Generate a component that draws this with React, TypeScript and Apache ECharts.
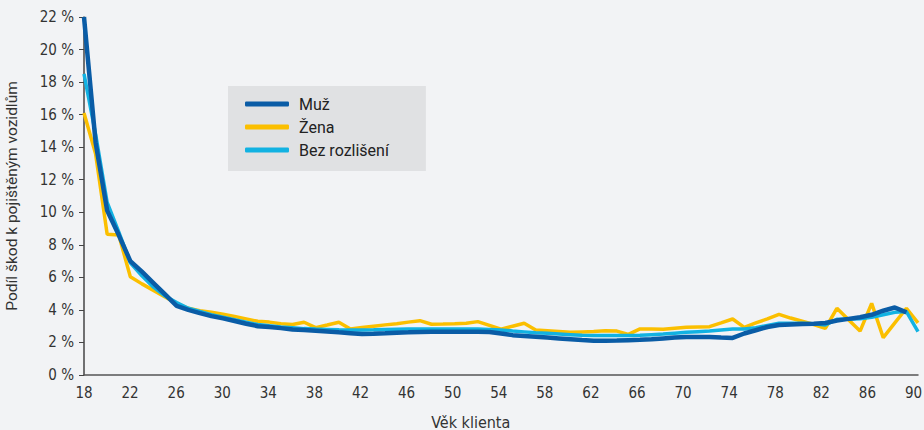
import React, { useEffect, useRef } from "react";
import * as echarts from "echarts";

const ages: number[] = Array.from({ length: 73 }, (_, i) => 18 + i);

const muz: (number | null)[] = [
  22.0, 14.3, 10.1, 8.6, 7.0, 6.35, 5.65, 4.95, 4.25, 4.0,
  3.8, 3.62, 3.48, 3.32, 3.15, 3.0, 2.95, 2.88, 2.8, 2.76,
  2.72, 2.68, 2.62, 2.57, 2.52, 2.53, 2.56, 2.6, 2.62, 2.65,
  2.66, 2.66, 2.66, 2.66, 2.66, 2.64, 2.55, 2.45, 2.4, 2.35,
  2.3, 2.25, 2.2, 2.15, 2.11, 2.11, 2.12, 2.14, 2.16, 2.2,
  2.25, 2.3, 2.33, 2.33, 2.33, 2.3, 2.28, 2.55, 2.75, 2.95,
  3.07, 3.1, 3.13, 3.15, 3.2, 3.35, 3.45, 3.55, 3.7, 3.95,
  4.15, 3.85, null,
];

const zena: number[] = [
  16.1, 13.6, 8.65, 8.6, 6.04, 5.6, 5.2, 4.8, 4.4, 4.1,
  3.95, 3.85, 3.73, 3.6, 3.45, 3.3, 3.25, 3.15, 3.1, 3.24,
  2.91, 3.07, 3.24, 2.83, 2.92, 3.0, 3.08, 3.15, 3.25, 3.34,
  3.12, 3.13, 3.15, 3.18, 3.28, 3.05, 2.81, 3.0, 3.18, 2.77,
  2.72, 2.67, 2.62, 2.65, 2.68, 2.72, 2.7, 2.5, 2.83, 2.82,
  2.81, 2.87, 2.93, 2.95, 2.97, 3.2, 3.44, 2.93, 3.2, 3.45,
  3.73, 3.5, 3.3, 3.1, 2.87, 4.1, 3.4, 2.7, 4.4, 2.3,
  3.2, 4.1, 3.2,
];

const bez: number[] = [
  18.5, 14.8, 10.6, 8.8, 6.9, 6.1, 5.4, 4.85, 4.45, 4.1,
  3.9, 3.7, 3.55, 3.4, 3.25, 3.1, 3.02, 2.95, 2.9, 2.85,
  2.82, 2.8, 2.78, 2.77, 2.77, 2.78, 2.8, 2.81, 2.82, 2.83,
  2.83, 2.83, 2.83, 2.83, 2.83, 2.8, 2.77, 2.7, 2.65, 2.6,
  2.56, 2.52, 2.48, 2.44, 2.42, 2.42, 2.42, 2.42, 2.44, 2.48,
  2.52, 2.57, 2.62, 2.66, 2.7, 2.77, 2.83, 2.82, 2.9, 3.05,
  3.18, 3.18, 3.18, 3.15, 3.07, 3.42, 3.42, 3.45, 3.55, 3.7,
  3.85, 3.9, 2.66,
];

const seriesNames = ["Muž", "Žena", "Bez rozlišení"];
const xTicks = { min: 18, max: 90, interval: 4 };
const yTicks = { min: 0, max: 22, interval: 2 };

const axisFont = "'Liberation Sans Narrow', 'DejaVu Sans Condensed', 'Roboto', sans-serif";

export default function App() {
  const ref = useRef<HTMLDivElement>(null);

  useEffect(() => {
    document.body.style.margin = "0";
    document.body.style.background = "#f2f3f5";
    if (!ref.current) return;
    const chart = echarts.init(ref.current, null, { renderer: "svg" });
    const pairs = (vals: (number | null)[]) =>
      ages.map((a, i) => [a, vals[i] == null ? null : vals[i]]);

    chart.setOption({
      animation: false,
      backgroundColor: "#f2f3f5",
      grid: [
        { left: 84, right: 6, top: 17, bottom: 55, outerBoundsMode: "none", containLabel: false },
        { left: 84, right: 10.5, top: 17, bottom: 55, outerBoundsMode: "none", containLabel: false },
      ],
      legend: {
        show: true,
        orient: "vertical",
        left: 228,
        top: 86,
        backgroundColor: "#e0e1e3",
        padding: [10, 37, 13, 17],
        itemGap: 7,
        itemWidth: 44,
        itemHeight: 5,
        icon: "roundRect",
        textStyle: {
          fontFamily: "Roboto, sans-serif",
          fontSize: 16,
          lineHeight: 16,
          color: "#222",
          padding: [0, 0, 0, 5],
        },
        data: seriesNames,
      },
      xAxis: [
        {
          type: "value",
          gridIndex: 0,
          min: xTicks.min,
          max: xTicks.max,
          interval: xTicks.interval,
          axisLine: { show: true, lineStyle: { color: "#555", width: 1.5 } },
          axisTick: { show: false },
          splitLine: { show: false },
          axisLabel: { show: false },
        },
        {
          type: "value",
          gridIndex: 1,
          min: xTicks.min,
          max: xTicks.max,
          interval: xTicks.interval,
          name: "Věk klienta",
          nameLocation: "middle",
          nameGap: 39,
          nameTextStyle: { fontFamily: axisFont, fontSize: 16, color: "#333", padding: [0, 56, 0, 0] },
          axisLine: { show: false },
          axisTick: { show: false },
          splitLine: { show: false },
          axisLabel: { fontFamily: axisFont, fontSize: 15, color: "#333", margin: 10 },
        },
      ],
      yAxis: [
        {
          type: "value",
          gridIndex: 0,
          min: yTicks.min,
          max: yTicks.max,
          interval: yTicks.interval,
          name: "Podíl škod k pojištěným vozidlům",
          nameLocation: "middle",
          nameGap: 64,
          nameTextStyle: { fontFamily: "Roboto, sans-serif", fontSize: 15.5, color: "#333" },
          axisLine: { show: true, lineStyle: { color: "#444", width: 1.5 } },
          axisTick: { show: true, inside: false, length: 5, lineStyle: { color: "#444" } },
          splitLine: { show: false },
          axisLabel: {
            fontFamily: axisFont,
            fontSize: 15,
            color: "#333",
            margin: 10,
            formatter: (v: number) => `${v} %`,
          },
        },
        {
          type: "value",
          gridIndex: 1,
          min: yTicks.min,
          max: yTicks.max,
          interval: yTicks.interval,
          show: false,
        },
      ],
      series: [
        {
          name: seriesNames[0],
          type: "line",
          xAxisIndex: 0,
          yAxisIndex: 0,
          data: pairs(muz),
          showSymbol: false,
          z: 5,
          color: "#0a5ca6",
          lineStyle: { width: 4.5, color: "#0a5ca6" },
        },
        {
          name: seriesNames[1],
          type: "line",
          xAxisIndex: 0,
          yAxisIndex: 0,
          data: pairs(zena),
          showSymbol: false,
          z: 3,
          color: "#fbbf00",
          lineStyle: { width: 3.5, color: "#fbbf00" },
        },
        {
          name: seriesNames[2],
          type: "line",
          xAxisIndex: 0,
          yAxisIndex: 0,
          data: pairs(bez),
          showSymbol: false,
          z: 4,
          color: "#12b2e2",
          lineStyle: { width: 3.5, color: "#12b2e2" },
        },
      ],
    });
    return () => chart.dispose();
  }, []);

  return <div ref={ref} style={{ width: 924, height: 430, background: "#f2f3f5" }} />;
}
